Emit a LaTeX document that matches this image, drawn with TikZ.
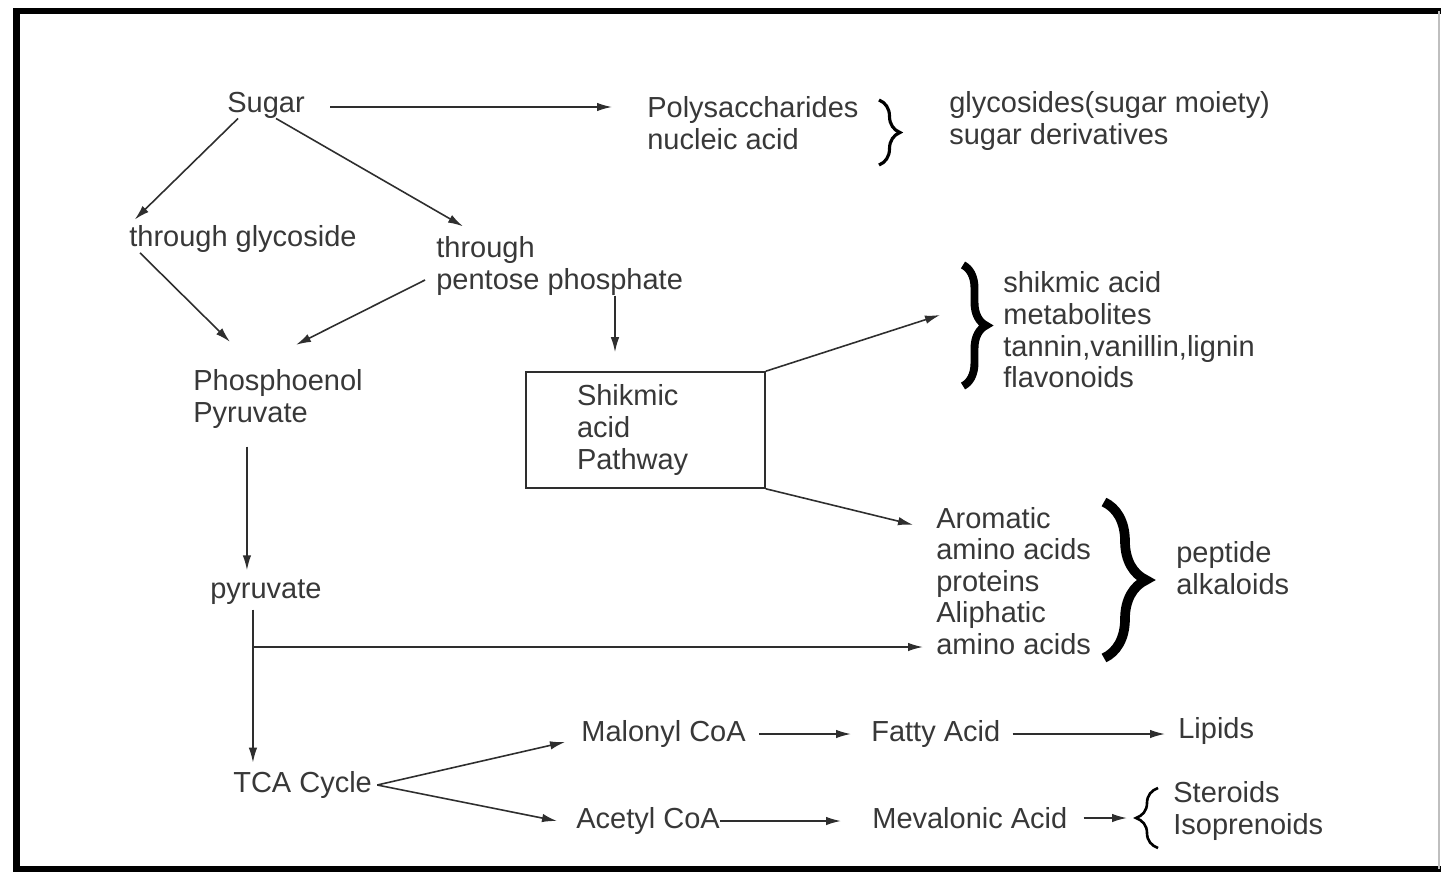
\documentclass[tikz,border=0pt]{standalone}
\usepackage{fontspec}
\setmainfont{Liberation Sans}
\usetikzlibrary{arrows.meta,decorations.pathreplacing}

\definecolor{txt}{gray}{0.22}
\definecolor{ln}{gray}{0.18}

\tikzset{
  lbl/.style={font=\fontsize{16.5}{18}\selectfont, text=txt, inner sep=0pt, anchor=west, align=left},
  arr/.style={-{Latex[length=0.3cm,width=0.17cm]}, line width=0.9pt, draw=ln},
  brc/.style={decorate, decoration={brace, amplitude=#1}, draw=black},
}

\begin{document}
\begin{tikzpicture}[x=0.02cm, y=-0.02cm]
 \fill[white] (0,0) rectangle (1441,872);
 \useasboundingbox (0,0) rectangle (1441,872);

 \draw[line width=0.14cm] (1441,11) -- (16.5,11) -- (16.5,869) -- (1441,869);
 \draw[gray!50, line width=0.04cm] (1439,11) -- (1439,869);

 \node[lbl] (sugar) at (227,105) {Sugar};
 \node[lbl] (poly) at (647,123) {Polysaccharides\\nucleic acid};
 \node[lbl] (glycsd) at (949,121) {glycosides(sugar moiety)\\sugar derivatives};
 \node[lbl] (glyc) at (129,239) {through glycoside};
 \node[lbl] (pent) at (436,266) {through\\pentose phosphate};
 \node[lbl] (pep) at (193,399) {Phosphoenol\\Pyruvate};
 \node[lbl, draw=ln, line width=0.9pt, anchor=center, text width=2.74cm, inner xsep=1.02cm, minimum height=2.32cm] (shik) at (645.5,430) {Shikmic\\acid\\Pathway};
 \node[lbl] (shikprod) at (1003,330) {shikmic acid\\metabolites\\tannin,vanillin,lignin\\flavonoids};
 \node[lbl] (arom) at (936,581) {Aromatic\\amino acids\\proteins\\Aliphatic\\amino acids};
 \node[lbl] (pepalk) at (1176,568) {peptide\\alkaloids};
 \node[lbl] (pyr) at (210,592) {pyruvate};
 \node[lbl] (tca) at (233,785) {TCA Cycle};
 \node[lbl] (mal) at (581,734) {Malonyl CoA};
 \node[lbl] (acet) at (576,821) {Acetyl CoA};
 \node[lbl] (fatty) at (871,734) {Fatty Acid};
 \node[lbl] (lipids) at (1178,731) {Lipids};
 \node[lbl] (meva) at (872,818) {Mevalonic Acid};
 \node[lbl] (sterisop) at (1173,811) {Steroids\\Isoprenoids};

 \coordinate (shiktip) at (940,315);
 \coordinate (fork) at (253,647);

 \draw[arr, shorten <=0.5cm, shorten >=0.7cm] ([yshift=-0.04cm]sugar.east) -- ([yshift=-0.04cm]sugar.east -| poly.west);
 \draw[arr, shorten >=0.16cm] ([xshift=0.22cm]sugar.south west) -- (glyc.north west);
 \draw[arr] ([xshift=0.2cm]sugar.south) -- ([xshift=0.54cm,yshift=0.2cm]pent.north west);
 \draw[arr] ([xshift=0.22cm]glyc.south west) -- ([xshift=0.74cm,yshift=0.55cm]pep.north west);
 \draw[arr] ([xshift=-0.22cm,yshift=-0.28cm]pent.west) -- ([xshift=2.06cm,yshift=0.49cm]pep.north west);
 \draw[arr, shorten >=0.38cm] ([xshift=-0.61cm]shik.north |- pent.south) -- ([xshift=-0.61cm]shik.north);
 \draw[arr] (shik.north east) -- (shiktip);
 \draw[arr] (shik.south east) -- ([xshift=-0.46cm,yshift=-0.36cm]arom.north west);
 \draw[arr, shorten <=0.36cm, shorten >=0.18cm] ([xshift=-0.38cm]pyr.north |- pep.south) -- ([xshift=-0.38cm]pyr.north);
 \draw[arr, shorten <=0.1cm, shorten >=0.17cm] ([xshift=-0.26cm]pyr.south) -- ([xshift=-0.26cm]pyr.south |- tca.north);
 \draw[arr, shorten >=0.26cm] (fork) -- (fork -| arom.west);
 \draw[arr] ([xshift=0.1cm]tca.east) -- ([xshift=-0.32cm,yshift=-0.16cm]mal.west);
 \draw[arr] ([xshift=0.1cm]tca.east) -- ([xshift=-0.38cm]acet.west);
 \draw[arr, shorten <=0.26cm, shorten >=0.4cm] (mal.east) -- (mal.east -| fatty.west);
 \draw[arr, shorten <=0.24cm, shorten >=0.26cm] (fatty.east) -- (fatty.east -| lipids.west);
 \draw[arr, shorten >=0.62cm] (acet.east) -- (acet.east -| meva.west);
 \draw[arr, shorten <=0.32cm, shorten >=0.92cm] (meva.east) -- (meva.east -| sterisop.west);

 \draw[brc=0.42cm, line width=1.8pt] (879,100) -- (879,165);
 \draw[brc=0.46cm, line width=4.5pt] (963,265) -- (963,386);
 \draw[brc=0.84cm, line width=5.5pt] (1104,502) -- (1104,658);
 \draw[brc=0.44cm, line width=1.5pt] (1158,848) -- (1158,788);
\end{tikzpicture}
\end{document}
